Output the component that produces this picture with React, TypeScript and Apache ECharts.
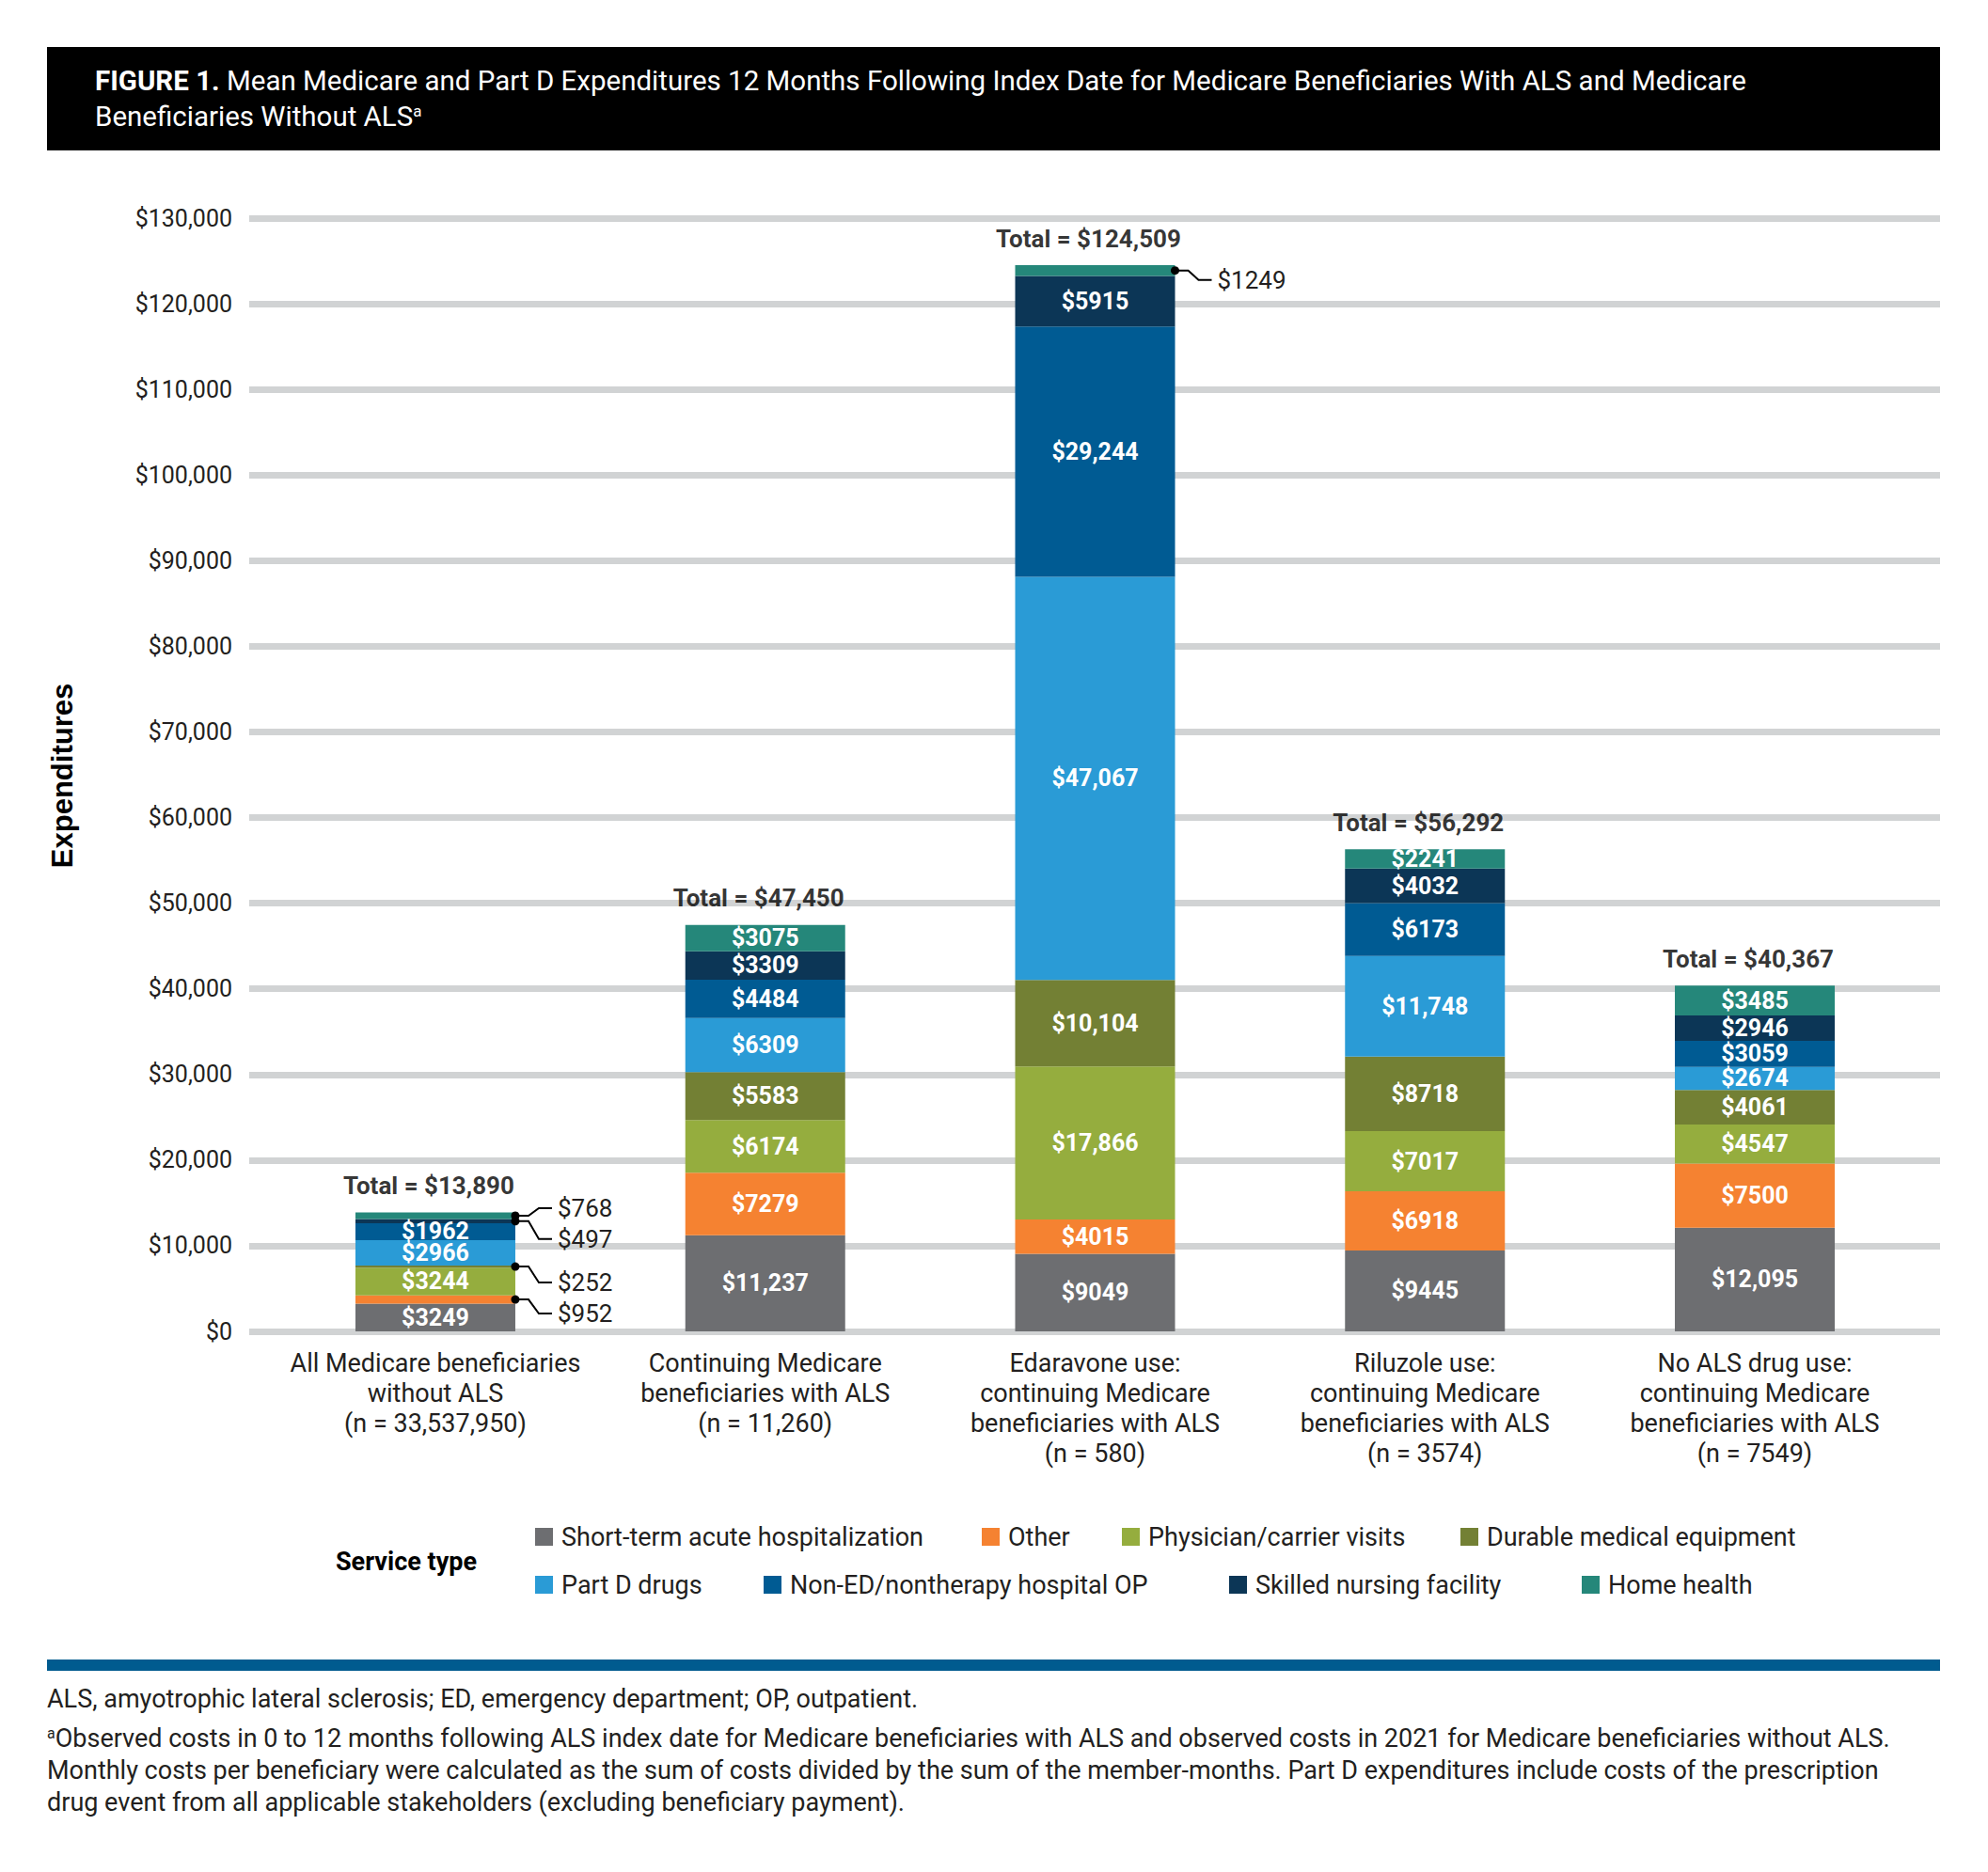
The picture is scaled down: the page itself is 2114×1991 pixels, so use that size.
import React, { useEffect, useRef } from "react";
import * as echarts from "echarts";

const FONT = "Roboto, 'Noto Sans', 'DejaVu Sans', sans-serif";
const TEXT_COLOR = "#231f20";

const categories = [
  "All Medicare beneficiaries\nwithout ALS\n(n = 33,537,950)",
  "Continuing Medicare\nbeneficiaries with ALS\n(n = 11,260)",
  "Edaravone use:\ncontinuing Medicare\nbeneficiaries with ALS\n(n = 580)",
  "Riluzole use:\ncontinuing Medicare\nbeneficiaries with ALS\n(n = 3574)",
  "No ALS drug use:\ncontinuing Medicare\nbeneficiaries with ALS\n(n = 7549)",
];

const seriesNames = [
  "Short-term acute hospitalization",
  "Other",
  "Physician/carrier visits",
  "Durable medical equipment",
  "Part D drugs",
  "Non-ED/nontherapy hospital OP",
  "Skilled nursing facility",
  "Home health",
];

const shortTerm = [3249, 11237, 9049, 9445, 12095];
const other = [952, 7279, 4015, 6918, 7500];
const physician = [3244, 6174, 17866, 7017, 4547];
const dme = [252, 5583, 10104, 8718, 4061];
const partD = [2966, 6309, 47067, 11748, 2674];
const nonEdOp = [1962, 4484, 29244, 6173, 3059];
const snf = [497, 3309, 5915, 4032, 2946];
const homeHealth = [768, 3075, 1249, 2241, 3485];

const seriesValues = [shortTerm, other, physician, dme, partD, nonEdOp, snf, homeHealth];
const seriesColors = ["#6d6e71", "#f58231", "#95ad3e", "#738034", "#2a9bd6", "#005b93", "#0c3656", "#25877a"];

const yMin = 0;
const yMax = 130000;
const yInterval = 10000;

// segments labelled outside the bar with a leader line: series index, category index, label offset
const calloutSeries = [7, 6, 3, 1, 7];
const calloutCategory = [0, 0, 0, 0, 2];
const calloutOffset = [-8, 19, 17, 15, 10];

const title =
  "{b|FIGURE 1.} Mean Medicare and Part D Expenditures 12 Months Following Index Date for Medicare Beneficiaries With ALS and Medicare\nBeneficiaries Without ALS{sup|a}";
const footnoteAbbrev = "ALS, amyotrophic lateral sclerosis; ED, emergency department; OP, outpatient.";
const footnoteA =
  "{sup|a}Observed costs in 0 to 12 months following ALS index date for Medicare beneficiaries with ALS and observed costs in 2021 for Medicare beneficiaries without ALS.\n" +
  "Monthly costs per beneficiary were calculated as the sum of costs divided by the sum of the member-months. Part D expenditures include costs of the prescription\n" +
  "drug event from all applicable stakeholders (excluding beneficiary payment).";

// legend placement (pixels)
const legendPos = [
  [569, 1621],
  [1044, 1621],
  [1193, 1621],
  [1553, 1621],
  [569, 1672],
  [812, 1672],
  [1307, 1672],
  [1682, 1672],
];

const BAR_W = 170;

const fmt = (v: number) => (v >= 10000 ? "$" + v.toLocaleString("en-US") : "$" + v);

export default function App() {
  const ref = useRef<HTMLDivElement>(null);

  useEffect(() => {
    if (!ref.current) return;
    const chart = echarts.init(ref.current, undefined, { renderer: "svg" });

    const totals = categories.map((_, i) => seriesValues.reduce((s, arr) => s + arr[i], 0));

    const isCallout = (si: number, ci: number) =>
      calloutSeries.some((s, k) => s === si && calloutCategory[k] === ci);

    const barSeries = seriesNames.map((name, si) => ({
      name,
      type: "bar",
      stack: "total",
      xAxisIndex: 1,
      yAxisIndex: 1,
      barWidth: BAR_W,
      itemStyle: { color: seriesColors[si] },
      label: {
        show: true,
        position: "inside",
        color: "#ffffff",
        fontWeight: "bold",
        fontSize: 25,
        fontFamily: FONT,
        formatter: (p: any) => fmt(p.value),
      },
      data: seriesValues[si].map((v, ci) =>
        isCallout(si, ci) ? { value: v, label: { show: false } } : v
      ),
      z: 3,
    }));

    const calloutData = calloutSeries.map((si, k) => {
      const ci = calloutCategory[k];
      let base = 0;
      for (let s = 0; s < si; s++) base += seriesValues[s][ci];
      return [ci, base + seriesValues[si][ci] / 2];
    });
    const calloutText = calloutSeries.map((si, k) => fmt(seriesValues[si][calloutCategory[k]]));

    const legends = seriesNames.map((name, i) => ({
      data: [name],
      left: legendPos[i][0],
      top: legendPos[i][1],
      orient: "horizontal",
      icon: "rect",
      itemWidth: 19,
      itemHeight: 19,
      padding: 0,
      selectedMode: false,
      textStyle: {
        fontSize: 27,
        color: TEXT_COLOR,
        fontFamily: FONT,
        lineHeight: 19,
        padding: [0, 0, 0, 4],
      },
    }));

    const option: any = {
      animation: false,
      backgroundColor: "#ffffff",
      textStyle: { fontFamily: FONT },
      title: [
        {
          text: title,
          left: 101,
          top: 67,
          padding: 0,
          textStyle: {
            color: "#ffffff",
            fontSize: 29.5,
            fontWeight: "normal",
            fontFamily: FONT,
            lineHeight: 38,
            rich: {
              b: { fontWeight: "bold", fontSize: 29.5, color: "#ffffff", fontFamily: FONT, lineHeight: 38 },
              sup: { fontSize: 17, color: "#ffffff", fontFamily: FONT, padding: [0, 0, 13, 0] },
            },
          },
        },
        {
          text: footnoteAbbrev,
          left: 50,
          top: 1790,
          padding: 0,
          textStyle: {
            color: TEXT_COLOR,
            fontSize: 27,
            fontWeight: "normal",
            fontFamily: FONT,
            lineHeight: 34,
          },
        },
        {
          text: footnoteA,
          left: 50,
          top: 1832,
          padding: 0,
          textStyle: {
            color: TEXT_COLOR,
            fontSize: 27,
            fontWeight: "normal",
            fontFamily: FONT,
            lineHeight: 34,
            rich: {
              sup: { fontSize: 16, color: TEXT_COLOR, fontFamily: FONT, padding: [0, 0, 12, 0] },
            },
          },
        },
      ],
      legend: legends,
      graphic: [
        { type: "rect", shape: { x: 50, y: 50, width: 2013, height: 110 }, style: { fill: "#000000" }, z: -10 },
        { type: "rect", shape: { x: 50, y: 1765, width: 2013, height: 12 }, style: { fill: "#005b8f" } },
        {
          type: "text",
          x: 66,
          y: 825,
          rotation: Math.PI / 2,
          style: {
            text: "Expenditures",
            fontFamily: "'Liberation Sans', Arial, sans-serif",
            fontWeight: "bold",
            fontSize: 31,
            fill: "#000000",
            align: "center",
            verticalAlign: "middle",
          },
        },
        {
          type: "text",
          x: 357,
          y: 1661,
          style: {
            text: "Service type",
            fontFamily: FONT,
            fontWeight: "bold",
            fontSize: 27,
            fill: "#000000",
            align: "left",
            verticalAlign: "middle",
          },
        },
      ],
      grid: [
        { left: 265, right: 51, top: 232, bottom: 575, containLabel: false },
        { left: 287.6, right: 72.6, top: 232, bottom: 575, containLabel: false },
      ],
      xAxis: [
        { type: "category", gridIndex: 0, data: categories, show: false },
        {
          type: "category",
          gridIndex: 1,
          data: categories,
          axisLine: { show: false },
          axisTick: { show: false },
          axisLabel: {
            interval: 0,
            fontSize: 27,
            lineHeight: 32,
            margin: 18,
            color: TEXT_COLOR,
            fontFamily: FONT,
            align: "center",
          },
        },
      ],
      yAxis: [
        {
          type: "value",
          gridIndex: 0,
          min: yMin,
          max: yMax,
          interval: yInterval,
          axisLine: { show: false },
          axisTick: { show: false },
          axisLabel: {
            fontSize: 25,
            color: TEXT_COLOR,
            fontFamily: FONT,
            margin: 18,
            formatter: (v: number) => "$" + v.toLocaleString("en-US"),
          },
          splitLine: { show: true, lineStyle: { color: "#d1d3d4", width: 7 } },
        },
        { type: "value", gridIndex: 1, min: yMin, max: yMax, interval: yInterval, show: false, splitLine: { show: false } },
      ],
      series: [
        ...barSeries,
        {
          name: "totals",
          type: "scatter",
          xAxisIndex: 1,
          yAxisIndex: 1,
          symbolSize: 1,
          itemStyle: { color: "rgba(0,0,0,0)" },
          silent: true,
          label: {
            show: true,
            position: "top",
            distance: 15,
            offset: [-7, 0],
            fontSize: 26,
            fontWeight: "bold",
            color: "#000000",
            fontFamily: FONT,
            formatter: (p: any) => "Total = $" + p.value[1].toLocaleString("en-US"),
          },
          data: totals.map((t, i) => [i, t]),
          z: 5,
        },
        {
          name: "callouts",
          type: "custom",
          xAxisIndex: 1,
          yAxisIndex: 1,
          silent: true,
          data: calloutData,
          encode: { x: 0, y: 1 },
          z: 6,
          renderItem: (params: any, api: any) => {
            const k = params.dataIndex;
            const p = api.coord([api.value(0), api.value(1)]);
            const x0 = p[0] + BAR_W / 2;
            const y0 = p[1];
            const dy = calloutOffset[k];
            return {
              type: "group",
              children: [
                {
                  type: "polyline",
                  shape: { points: [[x0, y0], [x0 + 14, y0], [x0 + 25, y0 + dy], [x0 + 39, y0 + dy]] },
                  style: { stroke: "#000000", lineWidth: 2, fill: "none" },
                },
                { type: "circle", shape: { cx: x0, cy: y0, r: 4.5 }, style: { fill: "#000000" } },
                {
                  type: "text",
                  x: x0 + 45,
                  y: y0 + dy,
                  style: {
                    text: calloutText[k],
                    fill: TEXT_COLOR,
                    fontSize: 26,
                    fontFamily: FONT,
                    align: "left",
                    verticalAlign: "middle",
                  },
                },
              ],
            };
          },
        },
      ],
    };

    chart.setOption(option);
    return () => chart.dispose();
  }, []);

  return (
    <div
      ref={ref}
      style={{ position: "absolute", left: 0, top: 0, width: 2114, height: 1991, background: "#ffffff" }}
    />
  );
}
